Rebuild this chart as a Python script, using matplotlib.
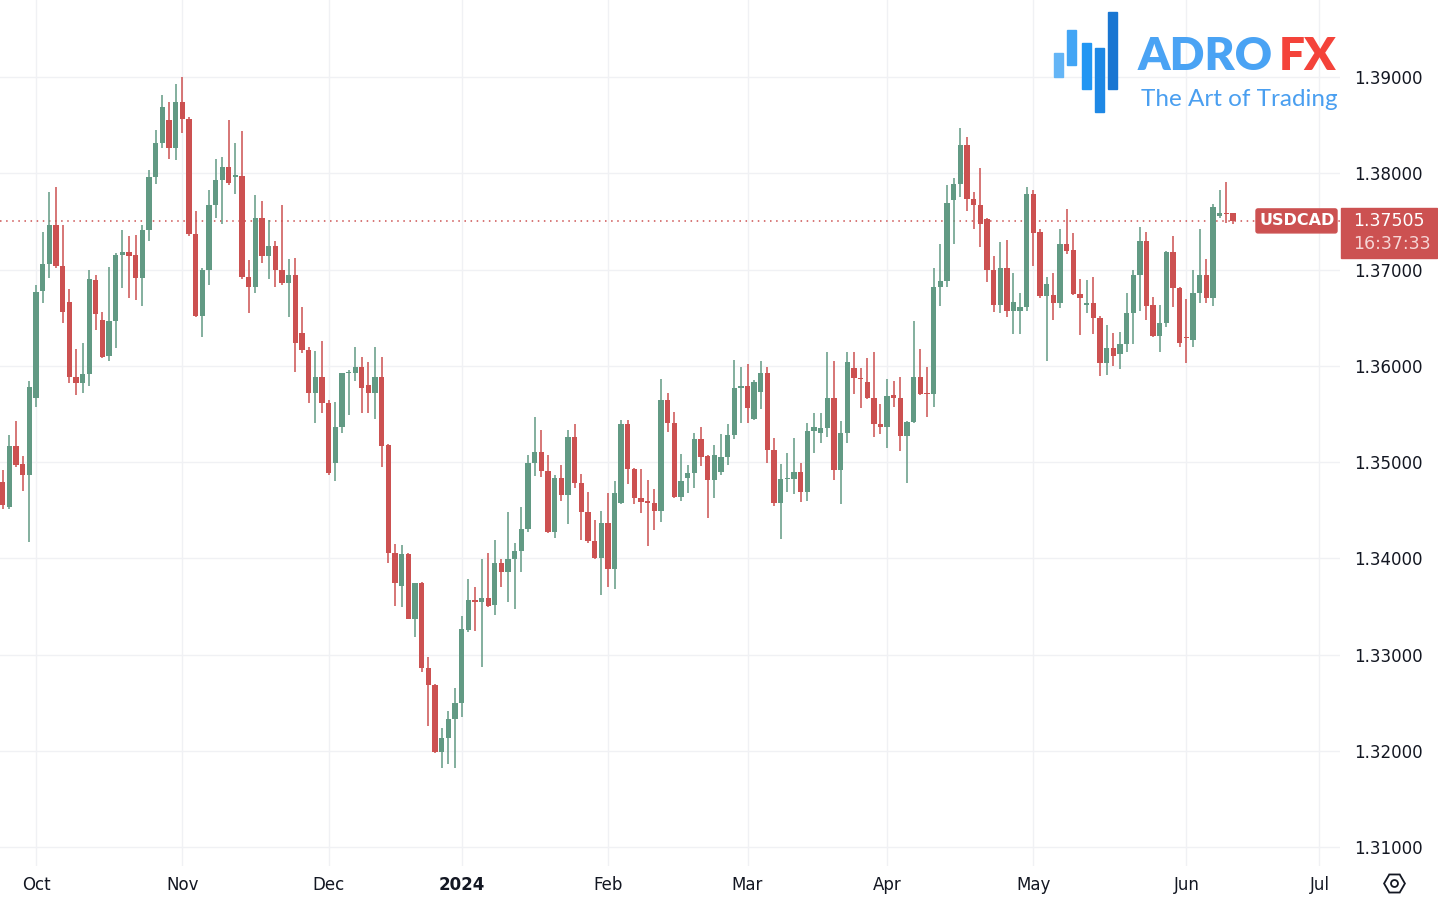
import numpy as np
import pandas as pd
import matplotlib
matplotlib.use("Agg")
import matplotlib.pyplot as plt
from matplotlib.patches import Rectangle, FancyBboxPatch
from matplotlib.transforms import IdentityTransform
from matplotlib.lines import Line2D

symbol = "USDCAD"
last_time = "16:37:33"

# daily bars Sep 25 2023 .. Jun 12 2024, no bar on Dec 25 / Jan 1
days = pd.bdate_range("2023-09-25", "2024-07-01")
days = days[~days.isin(pd.to_datetime(["2023-12-25", "2024-01-01"]))]

opens = [
    1.3479, 1.3453, 1.3517, 1.3498, 1.3486,
    1.3566, 1.3678, 1.3706, 1.3746, 1.3704, 1.3666, 1.3588, 1.3582, 1.3591, 1.3689, 1.3648,
    1.3610, 1.3647, 1.3715, 1.3718, 1.3715, 1.3691, 1.3741, 1.3796, 1.3831, 1.3855, 1.3826,
    1.3874, 1.3856, 1.3737, 1.3652, 1.3700, 1.3767, 1.3793, 1.3806, 1.3796, 1.3797, 1.3692,
    1.3682, 1.3754, 1.3714, 1.3724, 1.3700, 1.3686, 1.3694, 1.3634, 1.3616, 1.3572, 1.3588,
    1.3561, 1.3499, 1.3536, 1.3592, 1.3593, 1.3599, 1.3580, 1.3572, 1.3588, 1.3518, 1.3405,
    1.3371, 1.3404, 1.3337, 1.3374, 1.3286, 1.3268, 1.3199, 1.3213, 1.3233,
    1.3250, 1.3326, 1.3357, 1.3355, 1.3359, 1.3351, 1.3395, 1.3386, 1.3399, 1.3408, 1.3430,
    1.3499, 1.3510, 1.3491, 1.3427, 1.3483, 1.3466, 1.3526, 1.3478, 1.3448, 1.3418, 1.3400,
    1.3437, 1.3389, 1.3457, 1.3540, 1.3493, 1.3463, 1.3459, 1.3457, 1.3449, 1.3564, 1.3541,
    1.3464, 1.3483, 1.3489, 1.3524, 1.3506, 1.3481, 1.3490, 1.3505, 1.3528, 1.3577,
    1.3579, 1.3545, 1.3573, 1.3593, 1.3513, 1.3457, 1.3482, 1.3482, 1.3490, 1.3469, 1.3532,
    1.3530, 1.3535, 1.3567, 1.3492, 1.3530, 1.3598, 1.3587, 1.3583, 1.3567, 1.3540,
    1.3536, 1.3570, 1.3567, 1.3527, 1.3542, 1.3588, 1.3572, 1.3571, 1.3682, 1.3688, 1.3772,
    1.3789, 1.3829, 1.3773, 1.3767, 1.3752, 1.3700, 1.3663, 1.3702, 1.3657, 1.3657, 1.3661,
    1.3778, 1.3739, 1.3672, 1.3674, 1.3665, 1.3726, 1.3720, 1.3675, 1.3663, 1.3665, 1.3650,
    1.3603, 1.3618, 1.3612, 1.3623, 1.3655, 1.3694, 1.3730, 1.3663, 1.3631, 1.3644, 1.3718, 1.3681,
    1.3630, 1.3627, 1.3676, 1.3694, 1.3670, 1.3756, 1.3759, 1.3759,
]
highs = [
    1.3492, 1.3528, 1.3543, 1.3506, 1.3584,
    1.3684, 1.3739, 1.3781, 1.3786, 1.3746, 1.3680, 1.3617, 1.3624, 1.3700, 1.3694, 1.3656,
    1.3703, 1.3717, 1.3741, 1.3735, 1.3736, 1.3746, 1.3803, 1.3845, 1.3881, 1.3874, 1.3893,
    1.3900, 1.3858, 1.3761, 1.3702, 1.3783, 1.3815, 1.3817, 1.3855, 1.3831, 1.3844, 1.3710,
    1.3777, 1.3771, 1.3751, 1.3730, 1.3767, 1.3711, 1.3712, 1.3661, 1.3620, 1.3615, 1.3626,
    1.3564, 1.3562, 1.3593, 1.3596, 1.3619, 1.3609, 1.3604, 1.3619, 1.3609, 1.3519, 1.3415,
    1.3414, 1.3405, 1.3374, 1.3375, 1.3297, 1.3269, 1.3224, 1.3241, 1.3265,
    1.3340, 1.3378, 1.3370, 1.3399, 1.3405, 1.3419, 1.3399, 1.3448, 1.3416, 1.3453, 1.3507,
    1.3547, 1.3533, 1.3507, 1.3487, 1.3497, 1.3533, 1.3539, 1.3488, 1.3469, 1.3440, 1.3449,
    1.3468, 1.3480, 1.3544, 1.3544, 1.3494, 1.3493, 1.3481, 1.3472, 1.3586, 1.3572, 1.3552,
    1.3508, 1.3497, 1.3530, 1.3536, 1.3507, 1.3518, 1.3529, 1.3540, 1.3606, 1.3599,
    1.3602, 1.3585, 1.3605, 1.3599, 1.3525, 1.3498, 1.3509, 1.3525, 1.3499, 1.3541, 1.3551,
    1.3551, 1.3614, 1.3605, 1.3543, 1.3614, 1.3614, 1.3598, 1.3608, 1.3614, 1.3560,
    1.3586, 1.3584, 1.3588, 1.3543, 1.3647, 1.3617, 1.3599, 1.3702, 1.3726, 1.3788, 1.3795,
    1.3847, 1.3838, 1.3781, 1.3805, 1.3753, 1.3714, 1.3729, 1.3731, 1.3696, 1.3676, 1.3786,
    1.3783, 1.3742, 1.3692, 1.3696, 1.3742, 1.3763, 1.3738, 1.3690, 1.3689, 1.3692, 1.3652,
    1.3642, 1.3634, 1.3635, 1.3676, 1.3700, 1.3744, 1.3739, 1.3671, 1.3663, 1.3719, 1.3735, 1.3682,
    1.3669, 1.3700, 1.3742, 1.3711, 1.3768, 1.3783, 1.3791, 1.3759,
]
lows = [
    1.3451, 1.3451, 1.3495, 1.3470, 1.3417,
    1.3557, 1.3665, 1.3691, 1.3702, 1.3644, 1.3582, 1.3570, 1.3572, 1.3579, 1.3637, 1.3608,
    1.3605, 1.3618, 1.3681, 1.3670, 1.3668, 1.3662, 1.3730, 1.3789, 1.3826, 1.3815, 1.3814,
    1.3842, 1.3735, 1.3651, 1.3630, 1.3684, 1.3754, 1.3747, 1.3788, 1.3778, 1.3690, 1.3655,
    1.3676, 1.3707, 1.3690, 1.3682, 1.3684, 1.3651, 1.3594, 1.3613, 1.3561, 1.3541, 1.3551,
    1.3486, 1.3480, 1.3530, 1.3549, 1.3584, 1.3551, 1.3551, 1.3545, 1.3495, 1.3395, 1.3350,
    1.3349, 1.3337, 1.3318, 1.3282, 1.3226, 1.3198, 1.3182, 1.3186, 1.3182,
    1.3235, 1.3323, 1.3324, 1.3287, 1.3349, 1.3341, 1.3370, 1.3355, 1.3347, 1.3386, 1.3427,
    1.3485, 1.3484, 1.3426, 1.3421, 1.3459, 1.3436, 1.3473, 1.3419, 1.3416, 1.3399, 1.3362,
    1.3370, 1.3368, 1.3456, 1.3477, 1.3456, 1.3447, 1.3413, 1.3429, 1.3438, 1.3531, 1.3463,
    1.3459, 1.3468, 1.3473, 1.3496, 1.3442, 1.3463, 1.3487, 1.3497, 1.3524, 1.3541,
    1.3541, 1.3544, 1.3555, 1.3499, 1.3454, 1.3420, 1.3469, 1.3467, 1.3458, 1.3459, 1.3509,
    1.3520, 1.3526, 1.3481, 1.3456, 1.3520, 1.3571, 1.3556, 1.3565, 1.3526, 1.3529,
    1.3515, 1.3557, 1.3511, 1.3478, 1.3541, 1.3570, 1.3547, 1.3557, 1.3662, 1.3682, 1.3726,
    1.3775, 1.3761, 1.3742, 1.3723, 1.3687, 1.3656, 1.3655, 1.3651, 1.3633, 1.3633, 1.3657,
    1.3704, 1.3670, 1.3605, 1.3648, 1.3660, 1.3716, 1.3674, 1.3632, 1.3655, 1.3633, 1.3589,
    1.3590, 1.3600, 1.3597, 1.3614, 1.3623, 1.3657, 1.3648, 1.3630, 1.3614, 1.3640, 1.3661, 1.3619,
    1.3603, 1.3620, 1.3665, 1.3665, 1.3662, 1.3753, 1.3748, 1.3747,
]
closes = [
    1.3455, 1.3517, 1.3497, 1.3486, 1.3578,
    1.3677, 1.3706, 1.3746, 1.3704, 1.3656, 1.3588, 1.3582, 1.3591, 1.3690, 1.3654, 1.3609,
    1.3647, 1.3715, 1.3718, 1.3714, 1.3691, 1.3741, 1.3796, 1.3831, 1.3869, 1.3826, 1.3874,
    1.3856, 1.3737, 1.3652, 1.3700, 1.3767, 1.3793, 1.3806, 1.3790, 1.3798, 1.3692, 1.3682,
    1.3754, 1.3714, 1.3724, 1.3700, 1.3686, 1.3694, 1.3624, 1.3616, 1.3572, 1.3588, 1.3561,
    1.3489, 1.3536, 1.3592, 1.3593, 1.3599, 1.3577, 1.3572, 1.3588, 1.3517, 1.3405, 1.3374,
    1.3404, 1.3337, 1.3374, 1.3286, 1.3268, 1.3199, 1.3213, 1.3233, 1.3250,
    1.3327, 1.3357, 1.3355, 1.3359, 1.3350, 1.3395, 1.3386, 1.3399, 1.3408, 1.3430, 1.3499,
    1.3510, 1.3491, 1.3427, 1.3483, 1.3466, 1.3526, 1.3478, 1.3448, 1.3418, 1.3400, 1.3437,
    1.3389, 1.3468, 1.3540, 1.3493, 1.3463, 1.3458, 1.3457, 1.3449, 1.3564, 1.3541, 1.3464,
    1.3480, 1.3489, 1.3524, 1.3505, 1.3481, 1.3507, 1.3505, 1.3528, 1.3577, 1.3579,
    1.3556, 1.3583, 1.3593, 1.3513, 1.3457, 1.3482, 1.3483, 1.3490, 1.3469, 1.3532, 1.3536,
    1.3535, 1.3567, 1.3492, 1.3530, 1.3604, 1.3587, 1.3586, 1.3567, 1.3540, 1.3536,
    1.3569, 1.3567, 1.3527, 1.3542, 1.3588, 1.3571, 1.3571, 1.3682, 1.3688, 1.3769, 1.3789,
    1.3829, 1.3773, 1.3767, 1.3747, 1.3700, 1.3663, 1.3702, 1.3657, 1.3666, 1.3661, 1.3778,
    1.3738, 1.3672, 1.3685, 1.3665, 1.3726, 1.3719, 1.3675, 1.3670, 1.3665, 1.3650, 1.3603,
    1.3618, 1.3610, 1.3623, 1.3655, 1.3694, 1.3730, 1.3662, 1.3631, 1.3644, 1.3718, 1.3681, 1.3624,
    1.3629, 1.3676, 1.3694, 1.3670, 1.3765, 1.3759, 1.3758, 1.37505,
]

price_ticks = [1.31, 1.32, 1.33, 1.34, 1.35, 1.36, 1.37, 1.38, 1.39]

o = np.array(opens); h = np.array(highs); l = np.array(lows); c = np.array(closes)
n = len(c)
x = np.arange(n)
h = np.maximum(h, np.maximum(o, c))
l = np.minimum(l, np.minimum(o, c))

UP = "#629a84"
DOWN = "#cc5151"
GRID = "#f0f1f4"
TXT = "#131722"

fig = plt.figure(figsize=(14.38, 9.02), dpi=100)
ax = fig.add_axes([0, 36 / 902, 1340 / 1438, 866 / 902])

cols = np.where(c >= o, UP, DOWN)
ax.vlines(x, l, h, colors=cols, linewidth=1.1, zorder=3)
body_lo = np.minimum(o, c)
body_h = np.maximum(np.abs(c - o), 0.00012)
ax.bar(x, body_h, bottom=body_lo, width=0.8, color=cols, linewidth=0, zorder=4)

# month ticks on the first bar of each month
months = days.to_period("M")
starts = [i for i in range(1, len(days)) if months[i] != months[i - 1]]
labels = []
for i in starts:
    d = days[i]
    labels.append(str(d.year) if d.month == 1 else d.strftime("%b"))
ax.set_xticks(starts)
ax.set_xticklabels(labels)
for t in ax.get_xticklabels():
    if t.get_text().isdigit():
        t.set_fontweight("bold")

ax.set_xlim(-0.41, 201.1)
ax.set_ylim(1.30803, 1.39800)
ax.set_yticks(price_ticks)
ax.yaxis.set_major_formatter(plt.FuncFormatter(lambda v, p: f"{v:.5f}"))
ax.yaxis.tick_right()
ax.tick_params(axis="y", length=0, pad=10, labelsize=12, labelcolor=TXT)
ax.tick_params(axis="x", length=0, pad=7, labelsize=12, labelcolor=TXT)
ax.grid(True, color=GRID, linewidth=1, zorder=0)
for s in ax.spines.values():
    s.set_visible(False)

last = c[-1]
ax.axhline(last, color=DOWN, linestyle=(0, (1, 3)), linewidth=1.1, zorder=2)

# labels for the last price
fig.canvas.draw()
yp = ax.transData.transform((0, last))[1]
H = 902
fig.add_artist(FancyBboxPatch((1256, yp - 12), 81, 24, boxstyle="round,pad=0,rounding_size=2",
                              transform=IdentityTransform(), color=DOWN, zorder=5))
fig.text(1297 / 1438, yp / H, symbol, color="white", fontsize=11.5, fontweight="bold",
         ha="center", va="center", zorder=6)
fig.add_artist(Rectangle((1341, yp - 37), 96, 50, transform=IdentityTransform(),
                         color=DOWN, zorder=5))
fig.text(1389 / 1438, yp / H, f"{last:.5f}", color="white", fontsize=12.5,
         ha="center", va="center", zorder=6)
fig.text(1392 / 1438, (yp - 23) / H, last_time, color="#f6d6d6", fontsize=12.5,
         ha="center", va="center", zorder=6)

# logo
logo_bars = [(1054, 53, 77, "#64b5f6"), (1067, 30, 65, "#42a5f5"), (1082, 43, 89, "#2196f3"),
             (1095, 48, 112, "#1e88e5"), (1108, 12, 89, "#1976d2")]
for bx, top, bot, col in logo_bars:
    fig.add_artist(Rectangle((bx, H - bot), 9, bot - top, transform=IdentityTransform(),
                             color=col, zorder=6))
fig.text(1138 / 1438, (H - 56) / H, "ADRO", color="#4aa3f4", fontsize=33, fontweight="heavy",
         family="Lato", ha="left", va="center")
fig.text(1279 / 1438, (H - 56) / H, "FX", color="#f4433a", fontsize=33, fontweight="heavy",
         family="Lato", ha="left", va="center")
fig.text(1239 / 1438, (H - 99) / H, "The Art of Trading", color="#4a9ff0", fontsize=17.5,
         family="Lato", ha="center", va="center")

# settings icon at the bottom right
fig.add_artist(Line2D([1394 / 1438], [(H - 883) / H], marker="H", markersize=15,
                      mfc="none", mec=TXT, mew=1.3, transform=fig.transFigure))
fig.add_artist(Line2D([1394 / 1438], [(H - 883) / H], marker="o", markersize=5,
                      mfc="none", mec=TXT, mew=1.3, transform=fig.transFigure))

fig.savefig("out.png", dpi=100, facecolor="white")
